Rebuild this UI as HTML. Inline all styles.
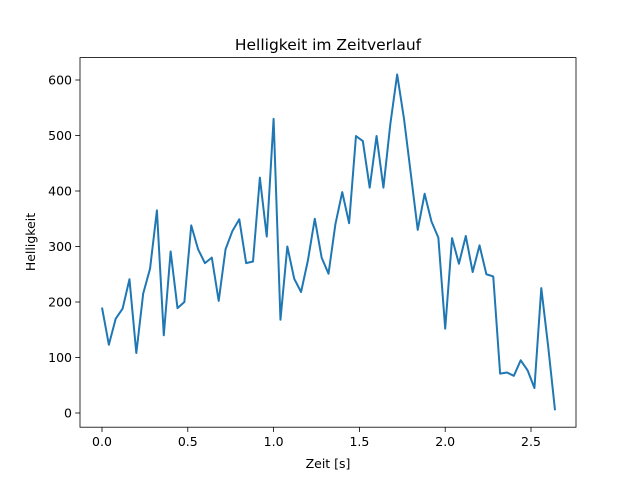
<!DOCTYPE html>
<html><head><meta charset="utf-8"><style>
body{margin:0;background:#fff;}
svg{display:block;font-family:"DejaVu Sans","Liberation Sans",sans-serif;}
</style></head><body>
<svg id="chart" width="640" height="480">
<rect width="640" height="480" fill="#fff"/>
<text x="328" y="50" text-anchor="middle" font-size="15.5">Helligkeit im Zeitverlauf</text>
<text x="328" y="468" text-anchor="middle" font-size="12.5">Zeit [s]</text>
<text transform="translate(35,242) rotate(-90)" text-anchor="middle" font-size="12.5">Helligkeit</text>
<g id="ticks"></g>
<path id="line" fill="none" stroke="#1f77b4" stroke-width="2" stroke-linejoin="round"/>
<rect x="80" y="57.6" width="496" height="369.6" fill="none" stroke="#000" stroke-width="0.8"/>
</svg>
<script>
const values = [190,123,170,188,241,108,215,260,365,140,291,189,200,338,295,270,280,202,295,328,349,270,273,424,318,530,168,300,242,218,275,350,280,251,340,398,342,499,490,406,499,406,520,610,530,430,330,395,345,316,152,315,269,319,254,302,250,246,71,73,67,95,77,45,225,120,5];
const timeStep = 0.04;
const xTicks = [0,0.5,1,1.5,2,2.5];
const xTickLabels = ["0.0","0.5","1.0","1.5","2.0","2.5"];
const yTicks = [0,100,200,300,400,500,600];
const yTickLabels = ["0","100","200","300","400","500","600"];

function xs(v){return 102 + v*171.6;}
function ys(v){return 413 - v*0.555;}
const NS="http://www.w3.org/2000/svg";
const g=document.getElementById('ticks');
function mk(tag,attrs){const e=document.createElementNS(NS,tag);for(const k in attrs)e.setAttribute(k,attrs[k]);return e;}
xTicks.forEach((t,i)=>{
  const x=xs(t);
  const l=mk('line',{x1:x,x2:x,y1:427.2,y2:432,stroke:'#000','stroke-width':0.8});
  
  
  g.appendChild(l);
  const tx=mk('text',{x:x,y:446,'text-anchor':'middle','font-size':12.5});
  tx.textContent=xTickLabels[i];
  
  
  g.appendChild(tx);
});
yTicks.forEach((t,i)=>{
  const y=ys(t);
  const l=mk('line',{x1:75.2,x2:80,y1:y,y2:y,stroke:'#000','stroke-width':0.8});
  
  
  g.appendChild(l);
  const tx=mk('text',{x:72,y:y+4.5,'text-anchor':'end','font-size':12.5});
  tx.textContent=yTickLabels[i];
  
  
  g.appendChild(tx);
});
document.getElementById('line').setAttribute('d',values.map((v,i)=>(i?'L':'M')+xs(i*timeStep).toFixed(2)+' '+ys(v).toFixed(2)).join(' '));
</script>
</body></html>
